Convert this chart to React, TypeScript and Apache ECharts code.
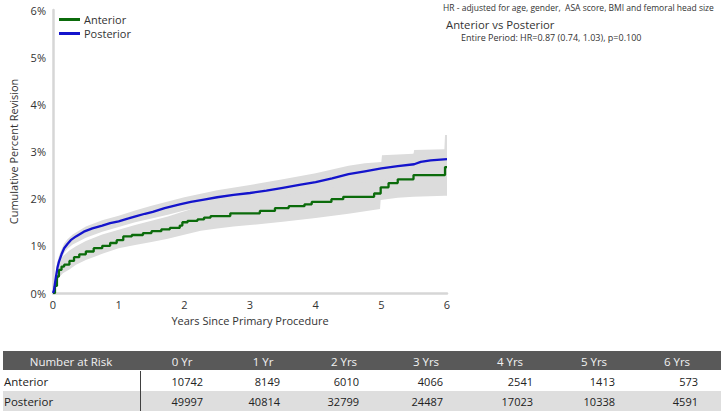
import React, { useEffect, useRef } from "react";
import * as echarts from "echarts";

// ---- data ----
const seriesNames = ["Anterior", "Posterior"];

// Kaplan-Meier style cumulative percent revision [years, %]
const anteriorCurve: number[][] = [
  [0, 0], [0.03, 0.15], [0.06, 0.35], [0.09, 0.49], [0.13, 0.56], [0.17, 0.6],
  [0.25, 0.68], [0.32, 0.76], [0.4, 0.82], [0.5, 0.88], [0.62, 0.95], [0.75, 1.0],
  [0.87, 1.06], [0.97, 1.12], [1.07, 1.2], [1.2, 1.23], [1.37, 1.27], [1.5, 1.31],
  [1.65, 1.35], [1.78, 1.38], [1.93, 1.43], [1.97, 1.5], [2.05, 1.53], [2.2, 1.56],
  [2.3, 1.6], [2.4, 1.63], [2.7, 1.69], [3.15, 1.74], [3.38, 1.8], [3.59, 1.84],
  [3.83, 1.88], [3.94, 1.93], [4.24, 1.99], [4.42, 2.04], [4.89, 2.11], [4.99, 2.24],
  [5.11, 2.33], [5.25, 2.41], [5.49, 2.5], [5.97, 2.67], [6.0, 2.67],
];
const posteriorCurve: number[][] = [
  [0, 0], [0.015, 0.06], [0.04, 0.3], [0.07, 0.55], [0.09, 0.66], [0.13, 0.82],
  [0.17, 0.95], [0.22, 1.04], [0.27, 1.12], [0.35, 1.2], [0.47, 1.3], [0.6, 1.37],
  [0.75, 1.43], [0.87, 1.48], [1.0, 1.52], [1.15, 1.58], [1.27, 1.63], [1.4, 1.68],
  [1.52, 1.72], [1.7, 1.8], [1.93, 1.88], [2.1, 1.93], [2.3, 1.98], [2.5, 2.03],
  [2.75, 2.08], [3.0, 2.12], [3.25, 2.17], [3.5, 2.23], [3.75, 2.29], [4.0, 2.35],
  [4.25, 2.43], [4.5, 2.52], [4.75, 2.58], [5.0, 2.64], [5.25, 2.69], [5.5, 2.73],
  [5.6, 2.78], [5.75, 2.81], [6.0, 2.84],
];
// 95% CI [years, lower %, upper %]
const anteriorCI: number[][] = [
  [0, 0, 0], [0.03, 0.08, 0.27], [0.06, 0.2, 0.52], [0.09, 0.33, 0.66], [0.15, 0.42, 0.78],
  [0.25, 0.5, 0.9], [0.35, 0.6, 0.99], [0.5, 0.7, 1.1], [0.75, 0.83, 1.24],
  [1.0, 0.95, 1.34], [1.25, 1.02, 1.44], [1.5, 1.08, 1.53], [1.75, 1.15, 1.62],
  [1.95, 1.22, 1.71], [2.25, 1.32, 1.84], [2.5, 1.37, 1.93], [2.75, 1.41, 2.0],
  [3.0, 1.44, 2.05], [3.5, 1.51, 2.15], [4.0, 1.59, 2.27], [4.5, 1.68, 2.4],
  [4.98, 1.78, 2.55], [4.99, 1.97, 2.75], [5.25, 2.02, 2.88], [5.49, 2.04, 2.95],
  [5.97, 2.06, 3.0], [6.0, 2.06, 3.0],
];
const posteriorCI: number[][] = [
  [0, 0, 0], [0.03, 0.12, 0.3], [0.06, 0.38, 0.62], [0.09, 0.58, 0.78], [0.13, 0.74, 0.93],
  [0.17, 0.85, 1.05], [0.22, 0.94, 1.14], [0.3, 1.03, 1.24], [0.5, 1.17, 1.41],
  [0.75, 1.3, 1.54], [1.0, 1.4, 1.64], [1.25, 1.5, 1.75], [1.5, 1.58, 1.85],
  [1.75, 1.66, 1.94], [2.0, 1.75, 2.03], [2.5, 1.88, 2.18], [3.0, 1.97, 2.29],
  [3.5, 2.06, 2.41], [4.0, 2.16, 2.54], [4.5, 2.3, 2.7], [4.75, 2.35, 2.75],
  [5.0, 2.4, 2.78], [5.01, 2.4, 2.92], [5.49, 2.48, 2.95], [5.5, 2.48, 3.03],
  [5.96, 2.52, 3.05], [5.97, 2.52, 3.35], [6.0, 2.52, 3.35],
];

// number at risk table
const riskHeader = "Number at Risk";
const riskLabels = ["0 Yr", "1 Yr", "2 Yrs", "3 Yrs", "4 Yrs", "5 Yrs", "6 Yrs"];
const anteriorRisk = [10742, 8149, 6010, 4066, 2541, 1413, 573];
const posteriorRisk = [49997, 40814, 32799, 24487, 17023, 10338, 4591];

const noteLines = [
  "HR - adjusted for age, gender,  ASA score, BMI and femoral head size",
  "Anterior vs Posterior",
  "Entire Period: HR=0.87 (0.74, 1.03), p=0.100",
];

// ---- styling / layout ----
const FONT = "'Open Sans', 'Noto Sans', sans-serif";
const GREEN = "#0b6b0b";
const BLUE = "#1414cc";
const BAND = "#dcdcdc";
const headerCenters = [182, 263, 344, 426, 510, 594, 677];
const numberRights = [203, 280, 359, 443, 533, 615, 698];

function bandSeries(name: string, ci: number[][]) {
  return {
    type: "custom",
    name,
    silent: true,
    clip: true,
    z: 1,
    data: [[0, 0]],
    encode: { x: 0, y: 1 },
    renderItem: (_params: any, api: any) => {
      const up: number[][] = [];
      const dn: number[][] = [];
      for (let i = 0; i < ci.length; i++) {
        const [t, lo, hi] = ci[i];
        up.push(api.coord([t, hi]));
        dn.push(api.coord([t, lo]));
      }
      return {
        type: "polygon",
        shape: { points: up.concat(dn.reverse()) },
        style: { fill: BAND },
      };
    },
  };
}

export default function App() {
  const ref = useRef<HTMLDivElement>(null);
  useEffect(() => {
    const chart = echarts.init(ref.current!, null, { renderer: "svg" });

    const tableGraphics: any[] = [
      { type: "rect", shape: { x: 3, y: 351, width: 718, height: 19 }, style: { fill: "#595959" } },
      { type: "rect", shape: { x: 3, y: 391, width: 718, height: 20 }, style: { fill: "#dedede" } },
      { type: "line", shape: { x1: 140.5, y1: 371, x2: 140.5, y2: 411 }, style: { stroke: "#404040", lineWidth: 1 } },
      {
        type: "text", x: 71, y: 361,
        style: { text: riskHeader, fill: "#f2f2f2", font: `11.5px ${FONT}`, align: "center", verticalAlign: "middle" },
      },
      {
        type: "text", x: 4, y: 381,
        style: { text: seriesNames[0], fill: "#222", font: `11.5px ${FONT}`, align: "left", verticalAlign: "middle" },
      },
      {
        type: "text", x: 4, y: 401,
        style: { text: seriesNames[1], fill: "#222", font: `11.5px ${FONT}`, align: "left", verticalAlign: "middle" },
      },
    ];
    riskLabels.forEach((lab, i) => {
      tableGraphics.push({
        type: "text", x: headerCenters[i], y: 361,
        style: { text: lab, fill: "#f2f2f2", font: `11.5px ${FONT}`, align: "center", verticalAlign: "middle" },
      });
      tableGraphics.push({
        type: "text", x: numberRights[i], y: 381,
        style: { text: String(anteriorRisk[i]), fill: "#222", font: `11px ${FONT}`, align: "right", verticalAlign: "middle" },
      });
      tableGraphics.push({
        type: "text", x: numberRights[i], y: 401,
        style: { text: String(posteriorRisk[i]), fill: "#222", font: `11px ${FONT}`, align: "right", verticalAlign: "middle" },
      });
    });

    const noteGraphics = [
      { type: "text", x: 443, y: 7.5, style: { text: noteLines[0], fill: "#333", font: `8.5px ${FONT}`, verticalAlign: "middle" } },
      { type: "text", x: 446, y: 24, style: { text: noteLines[1], fill: "#333", font: `11.3px ${FONT}`, verticalAlign: "middle" } },
      { type: "text", x: 461, y: 37.5, style: { text: noteLines[2], fill: "#333", font: `9px ${FONT}`, verticalAlign: "middle" } },
    ];

    chart.setOption({
      animation: false,
      backgroundColor: "#fff",
      textStyle: { fontFamily: FONT },
      grid: { left: 49, right: 276, top: 10, bottom: 121, containLabel: false },
      legend: {
        data: seriesNames,
        orient: "vertical",
        left: 54,
        top: 9,
        icon: "rect",
        itemWidth: 21,
        itemHeight: 3,
        itemGap: 3,
        textStyle: { fontSize: 11, color: "#333", fontFamily: FONT, padding: [0, 0, 0, -1] },
      },
      xAxis: {
        type: "value",
        min: 0,
        max: 6,
        interval: 1,
        name: "Years Since Primary Procedure",
        nameLocation: "middle",
        nameGap: 21,
        nameTextStyle: { fontSize: 11, color: "#333", fontFamily: FONT },
        axisLine: { show: true, onZero: false, lineStyle: { color: "#d6d6d6", width: 2.5 } },
        axisTick: { show: false },
        splitLine: { show: false },
        axisLabel: { fontSize: 11, color: "#333", margin: 6, fontFamily: FONT },
      },
      yAxis: {
        type: "value",
        min: 0,
        max: 6,
        interval: 1,
        name: "Cumulative Percent Revision",
        nameLocation: "middle",
        nameGap: 34,
        nameTextStyle: { fontSize: 11, color: "#333", fontFamily: FONT },
        axisLine: { show: true, lineStyle: { color: "#d6d6d6", width: 2.5 } },
        axisTick: { show: false },
        splitLine: { show: false },
        axisLabel: { fontSize: 11, color: "#333", margin: 7, formatter: "{value}%", fontFamily: FONT },
      },
      series: [
        bandSeries("AnteriorCI", anteriorCI),
        bandSeries("PosteriorCI", posteriorCI),
        {
          type: "line",
          name: seriesNames[0],
          data: anteriorCurve,
          step: "end",
          showSymbol: false,
          symbol: "none",
          z: 3,
          color: GREEN,
          lineStyle: { color: GREEN, width: 2.3 },
        },
        {
          type: "line",
          name: seriesNames[1],
          data: posteriorCurve,
          showSymbol: false,
          symbol: "none",
          z: 4,
          color: BLUE,
          lineStyle: { color: BLUE, width: 2.3 },
        },
      ],
      graphic: [...noteGraphics, ...tableGraphics],
    });
    return () => chart.dispose();
  }, []);
  return (
    <div
      ref={ref}
      style={{ position: "absolute", left: 0, top: 0, width: 723, height: 414 }}
    />
  );
}
